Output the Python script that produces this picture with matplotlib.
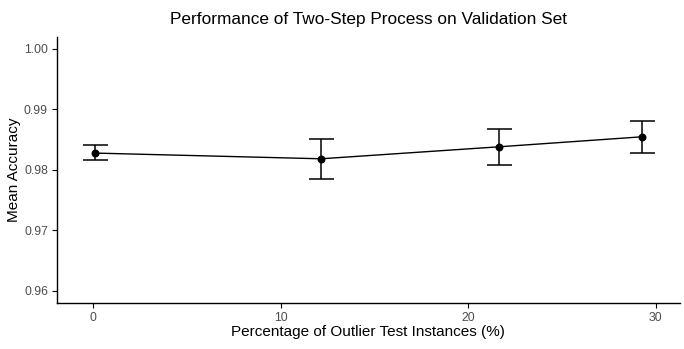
import matplotlib.pyplot as plt

# ------------------
# DATA
# ------------------
pct_outliers = [0.1, 12.15, 21.64, 29.27]
mean_acc = [0.98277, 0.98183, 0.98381, 0.98546]
acc_low = [0.98155, 0.97842, 0.98078, 0.98276]
acc_high = [0.98408, 0.98518, 0.98683, 0.98815]

x_ticks = [0, 10, 20, 30]
y_ticks = [0.96, 0.97, 0.98, 0.99, 1.00]

plt.rcParams['font.family'] = ['Liberation Sans', 'DejaVu Sans']

fig = plt.figure(figsize=(6.84, 3.49), dpi=100)
ax = fig.add_axes([0.0833, 0.1318, 0.9107, 0.763])

yerr = [[m - lo for m, lo in zip(mean_acc, acc_low)],
        [hi - m for m, hi in zip(mean_acc, acc_high)]]

ax.plot(pct_outliers, mean_acc, color='black', linewidth=1.0)
ax.errorbar(pct_outliers, mean_acc, yerr=yerr, fmt='none', ecolor='black',
            elinewidth=1.1, capsize=9, capthick=1.1)
ax.scatter(pct_outliers, mean_acc, color='black', s=22, zorder=3)

ax.set_xlim(-1.94, 31.3)
ax.set_ylim(0.958, 1.002)
ax.set_xticks(x_ticks)
ax.set_xticklabels([str(t) for t in x_ticks])
ax.set_yticks(y_ticks)
ax.set_yticklabels([f'{t:.2f}' for t in y_ticks])

for side in ['top', 'right']:
    ax.spines[side].set_visible(False)
for side in ['left', 'bottom']:
    ax.spines[side].set_linewidth(1.0)

ax.tick_params(axis='both', direction='out', length=3.5, width=0.8,
               colors='black', labelcolor='#4D4D4D', labelsize=8.8, pad=3)

ax.set_xlabel('Percentage of Outlier Test Instances (%)', fontsize=11, labelpad=1)
ax.set_ylabel('Mean Accuracy', fontsize=11, labelpad=2)
ax.set_title('Performance of Two-Step Process on Validation Set', fontsize=12.4, pad=9)

fig.savefig('out.png', dpi=100)
